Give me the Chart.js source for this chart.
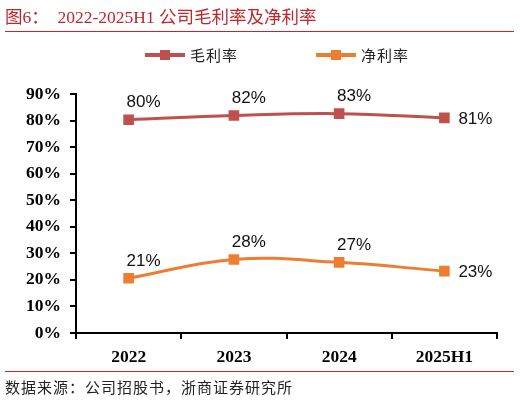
<!DOCTYPE html>
<html>
<head>
<meta charset="utf-8">
<script src="https://cdn.jsdelivr.net/npm/chart.js@4"></script>
<style>
  body { margin: 0; width: 520px; height: 401px; position: relative; background: #fff; overflow: hidden; }
  #c { position: absolute; left: 0; top: 0; }
  .title { position: absolute; left: 5px; top: 3px; color: #c0272d; font: 17.5px "Liberation Serif", "Noto Sans CJK SC"; white-space: pre; }
  .rule { position: absolute; left: 5px; width: 509px; height: 1px; background: #c0272d; }
  .legend { position: absolute; top: 44px; font: 15px "Noto Sans CJK SC"; color: #222; display: flex; align-items: center; letter-spacing: 1px; }
  .swatch { position: relative; width: 40px; height: 4px; margin-right: 5px; }
  .swatch i { position: absolute; left: 15px; top: -3px; width: 10px; height: 10px; }
  .source { position: absolute; left: 5px; top: 376px; font: 15px "Noto Sans CJK SC"; color: #222; letter-spacing: 1px; }
</style>
</head>
<body>
<canvas id="c" width="520" height="401"></canvas>
<div class="title">图6：  2022-2025H1 公司毛利率及净利率</div>
<div class="rule" style="top:31px"></div>
<div class="legend" style="left:145px"><span class="swatch" style="background:#c0504d"><i style="background:#c0504d"></i></span>毛利率</div>
<div class="legend" style="left:316px"><span class="swatch" style="background:#ed7d31"><i style="background:#ed7d31"></i></span>净利率</div>
<div class="rule" style="top:371px"></div>
<div class="source">数据来源：公司招股书，浙商证券研究所</div>
<script>
const categories = ["2022", "2023", "2024", "2025H1"];
const grossMargin = [80.3, 81.9, 82.6, 81.0];
const netMargin = [20.6, 27.7, 26.6, 23.3];
const seriesNames = ["毛利率", "净利率"];

const valueLabels = {
  id: "valueLabels",
  afterDatasetsDraw(chart) {
    const ctx = chart.ctx;
    ctx.save();
    ctx.font = '17px "Liberation Sans", "Open Sans"';
    ctx.fillStyle = "#111";
    ctx.textBaseline = "middle";
    chart.data.datasets.forEach((ds, i) => {
      const meta = chart.getDatasetMeta(i);
      meta.data.forEach((pt, j) => {
        const txt = Math.round(ds.data[j]) + "%";
        if (j === ds.data.length - 1) {
          ctx.textAlign = "left";
          ctx.fillText(txt, pt.x + 14, pt.y + 1);
        } else {
          ctx.textAlign = "center";
          ctx.fillText(txt, pt.x + 15, pt.y - 17);
        }
      });
    });
    ctx.restore();
  }
};

new Chart(document.getElementById("c"), {
  type: "line",
  data: {
    labels: categories,
    datasets: [
      { label: seriesNames[0], data: grossMargin, borderColor: "#c0504d", backgroundColor: "#c0504d" },
      { label: seriesNames[1], data: netMargin, borderColor: "#ed7d31", backgroundColor: "#ed7d31" }
    ]
  },
  options: {
    responsive: false,
    animation: false,
    devicePixelRatio: 1,
    layout: { padding: { left: 0, right: 23, top: 94, bottom: 0 } },
    elements: {
      line: { borderWidth: 3, tension: 0.4 },
      point: { pointStyle: "rect", radius: 7.5, borderWidth: 0 }
    },
    plugins: { legend: { display: false }, tooltip: { enabled: false } },
    scales: {
      x: {
        offset: true,
        grid: { offset: true, drawOnChartArea: false, color: "#000", tickLength: 6, lineWidth: 2 },
        border: { color: "#000", width: 2 },
        ticks: { color: "#000", font: { family: "Liberation Serif", size: 17.5, weight: "bold" }, padding: 8 },
        afterFit(s) { s.height = 68; }
      },
      y: {
        min: 0, max: 90,
        grid: { drawOnChartArea: false, color: "#000", tickLength: 6, lineWidth: 2 },
        border: { color: "#000", width: 2 },
        ticks: { stepSize: 10, color: "#000", font: { family: "Liberation Serif", size: 17.5, weight: "bold" }, padding: 9, callback: v => v + "%" },
        afterFit(s) { s.width = 76; }
      }
    }
  },
  plugins: [valueLabels]
});
</script>
</body>
</html>
